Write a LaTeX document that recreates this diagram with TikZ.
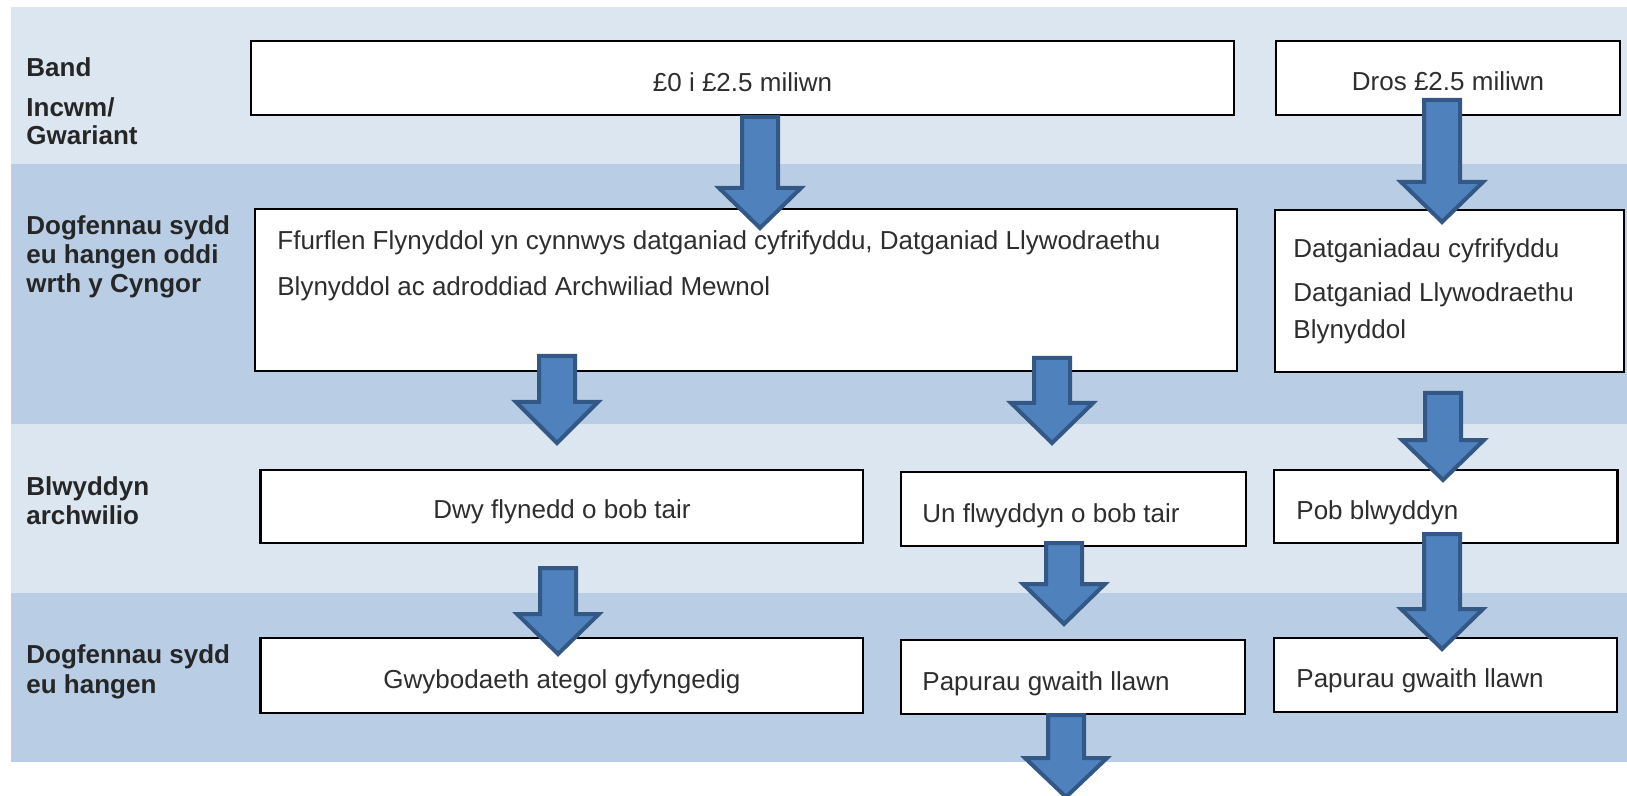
\documentclass[tikz,border=0pt]{standalone}
\usepackage{fontspec}
\setmainfont{Liberation Sans}
\definecolor{bandlight}{RGB}{220,230,241}
\definecolor{banddark}{RGB}{185,205,229}
\definecolor{arrfill}{RGB}{79,129,189}
\definecolor{arrline}{RGB}{52,88,134}
\newcommand\mybox[5]{\node[boxsty, minimum width={(#4-#2)*0.5pt}, minimum height={(#5-#3)*0.5pt}] (#1) at ({(#2+#4)/2},{(#3+#5)/2}) {};}
\newcommand\blockarr[4]{\draw[arrsty] ({#1-18},#2) -- ({#1+18},#2) -- ({#1+18},#3) -- ({#1+41},#3) -- (#1,#4) -- ({#1-41},#3) -- ({#1-18},#3) -- cycle;}
\begin{document}
\begin{tikzpicture}[x=0.5pt,y=-0.5pt,
  boxsty/.style={draw=black, line width=1.4pt, fill=white, inner sep=0pt, rectangle},
  arrsty/.style={draw=arrline, fill=arrfill, line width=2pt, line join=miter},
  lbl/.style={inner sep=0pt, anchor=base west, align=left, font=\bfseries\fontsize{13}{15}\selectfont, text=black!85},
  txt/.style={inner sep=0pt, font=\fontsize{13}{15}\selectfont, text=black!82}]
\useasboundingbox (0,0) rectangle (1627,796);
\fill[white] (0,0) rectangle (1627,796);
\begin{scope}
\clip (0,0) rectangle (1627,796);
% bands
\fill[bandlight] (10.5,7) rectangle (1627,164);
\fill[banddark] (10.5,164) rectangle (1627,424);
\fill[bandlight] (10.5,424) rectangle (1627,592.5);
\fill[banddark] (10.5,592.5) rectangle (1627,761.5);
% row labels
\node[lbl] (l1a) at (26,77) {Band};
\node[lbl] (l1b) at (26,117) {Incwm/};
\node[lbl] (l1c) at (26,145) {Gwariant};
\node[lbl] (l2a) at (26,235) {Dogfennau sydd};
\node[lbl] (l2b) at (26,264) {eu hangen oddi};
\node[lbl] (l2c) at (26,293) {wrth y Cyngor};
\node[lbl] (l3a) at (26,495) {Blwyddyn};
\node[lbl] (l3b) at (26,524) {archwilio};
\node[lbl] (l4a) at (26,663) {Dogfennau sydd};
\node[lbl] (l4b) at (26,693) {eu hangen};
% boxes
\mybox{top1}{251}{41}{1234}{115}
\mybox{dros}{1276}{41}{1620}{115}
\mybox{big}{255}{209}{1237}{371}
\mybox{datg}{1275}{210}{1624}{372}
\mybox{dwy}{260.5}{470}{863}{543}
\mybox{un}{901}{472}{1246}{546}
\mybox{pob}{1274}{470}{1617.5}{543}
\mybox{gwyb}{260.5}{638}{863}{713}
\mybox{papa}{901}{640}{1245}{714}
\mybox{papb}{1274}{638}{1617}{712}
% box texts
\node[txt, anchor=base] (t1) at (742.5,91.5) {£0 i £2.5 miliwn};
\node[txt, anchor=base] (t2) at (1448,91) {Dros £2.5 miliwn};
\node[txt, anchor=base west] (t3a) at (277,250) {Ffurflen Flynyddol yn cynnwys datganiad cyfrifyddu, Datganiad Llywodraethu};
\node[txt, anchor=base west] (t3b) at (277,296) {Blynyddol ac adroddiad Archwiliad Mewnol};
\node[txt, anchor=base west] (t4a) at (1293,258) {Datganiadau cyfrifyddu};
\node[txt, anchor=base west] (t4b) at (1293,302) {Datganiad Llywodraethu};
\node[txt, anchor=base west] (t4c) at (1293,339) {Blynyddol};
\node[txt, anchor=base] (t5) at (562,518) {Dwy flynedd o bob tair};
\node[txt, anchor=base west] (t6) at (922,522) {Un flwyddyn o bob tair};
\node[txt, anchor=base west] (t7) at (1296,519) {Pob blwyddyn};
\node[txt, anchor=base] (t8) at (562,688) {Gwybodaeth ategol gyfyngedig};
\node[txt, anchor=base west] (t9) at (922,690) {Papurau gwaith llawn};
\node[txt, anchor=base west] (t10) at (1296,687) {Papurau gwaith llawn};
% block arrows
\blockarr{760}{117}{188}{228}
\blockarr{1442}{100}{182}{222}
\blockarr{557}{356}{402}{443}
\blockarr{1052}{358}{403}{443}
\blockarr{1443}{393}{440}{480}
\blockarr{558}{568}{614}{654}
\blockarr{1064}{543}{584}{624}
\blockarr{1442}{534}{609}{649}
\blockarr{1066}{715}{758}{797}
\end{scope}
\end{tikzpicture}
\end{document}
